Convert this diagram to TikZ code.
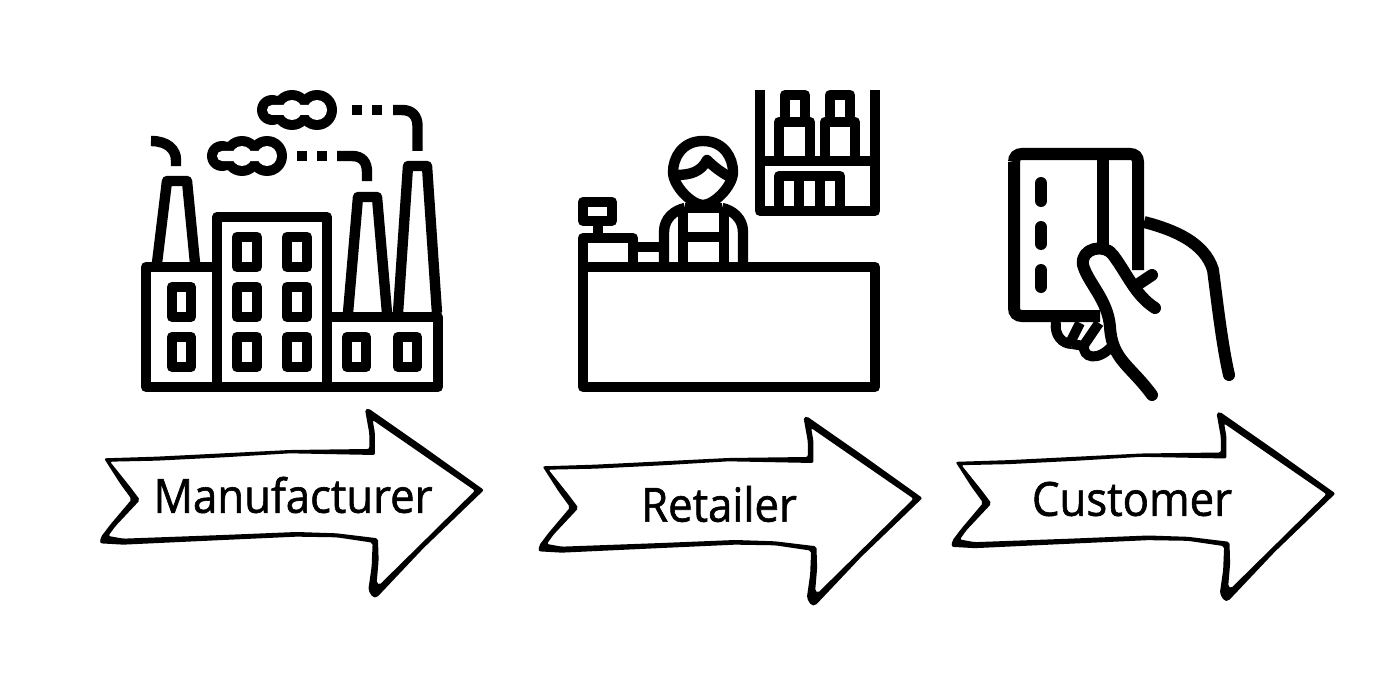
\documentclass[tikz,border=0pt]{standalone}
\usepackage{fontspec}
\newfontfamily\tagfont{Open Sans}[FakeBold=1.3,FakeStretch=0.93]
\usetikzlibrary{positioning}
\tikzset{
  icon/.style={line width=10.4pt, line join=round, line cap=butt},
  soft/.style={line width=10.4pt, line cap=butt},
  roundicon/.style={line width=12pt, line cap=round, line join=round},
  tag/.style={font=\tagfont\fontsize{47}{50}\selectfont, inner sep=0pt}
}
\newcommand{\smokecloud}[2]{%
  \fill (#1-25,#2) circle (15pt) (#1-5,#2) circle (20pt) (#1+20,#2) circle (20pt);
  \fill[white] (#1-25,#2) circle (5pt) (#1-5,#2) circle (10pt) (#1+20,#2) circle (10pt)
    (#1-25,#2-5) rectangle (#1+20,#2+5);
}
\newcommand{\handarrow}[2]{%
  \begin{scope}[shift={(90+#1,400+#2)}, x=0.3333pt, y=-0.3333pt]
  \fill[even odd rule, rounded corners=2pt]
    (42,175) -- (200,170) -- (400,160) -- (600,150) -- (838,147) -- (838,100) -- (825,28)
    -- (835,25) -- (1000,140) -- (1182,270) -- (1000,445) -- (860,593) -- (848,592)
    -- (835,570) -- (845,500) -- (848,428) -- (740,412) -- (620,410) -- (400,420) -- (100,434)
    -- (30,430) -- (32,412) -- (60,375) -- (125,298) -- (90,250) -- cycle
    (60,185) -- (200,182) -- (400,172) -- (600,160) -- (855,165) -- (855,100) -- (848,60)
    -- (1000,165) -- (1155,272) -- (1000,425) -- (868,555) -- (860,550) -- (866,480) -- (864,415)
    -- (740,400) -- (620,396) -- (400,405) -- (100,416) -- (55,408) -- (75,380) -- (150,300)
    -- (120,260) -- cycle;
  \end{scope}
}
\begin{document}
\begin{tikzpicture}[x=1pt, y=-1pt]
\useasboundingbox (0,0) rectangle (1400,682);
% factory
\draw[icon] (146,267) rectangle (217,387);
\draw[icon] (217,217) rectangle (327,387);
\draw[icon] (327,317) -- (438,317) -- (438,387) -- (327,387);
\draw[icon] (157,263) -- (167,181) -- (187,181) -- (195,263);
\draw[icon] (348,313) -- (358,197) -- (377,197) -- (387,313);
\draw[icon] (398,313) -- (408,166) -- (427,166) -- (437,313);
\foreach \wx in {237,287} \foreach \wy in {237,287,337}
  \draw[icon] (\wx,\wy) rectangle ++(20,30);
\foreach \wy in {287,337}
  \draw[icon] (172,\wy) rectangle ++(19,30);
\foreach \wx in {347,398}
  \draw[icon] (\wx,337) rectangle ++(19,30);
% smoke
\smokecloud{297}{110}
\smokecloud{247}{156}
\draw[soft] (151,141) .. controls (168,141) and (176,150) .. (176,160) -- (176,166);
\draw[soft] (297,156) -- (307,156) (317,156) -- (327,156);
\draw[soft] (337,156) -- (352,156) .. controls (362,156) and (367,162) .. (367,172) -- (367,181);
\draw[soft] (352,110) -- (362,110) (372,110) -- (382,110);
\draw[soft] (393,110) -- (402,110) .. controls (412,110) and (417.5,116) .. (417.5,126) -- (417.5,151);
% counter
\draw[icon] (583,267) rectangle (875,387);
\draw[icon] (583,267) -- (583,238) -- (633,238) -- (633,267);
\draw[icon] (583,202) rectangle (612,221);
\draw[icon] (598,221) -- (598,238);
\draw[icon] (633,247) -- (665,247);
% person
\draw[icon] (664,263) -- (664,232) .. controls (664,218) and (675,210) .. (685,208);
\draw[icon] (743,263) -- (743,232) .. controls (743,218) and (732,210) .. (722,208);
\draw[icon] (685,208) -- (722,208);
\draw[icon] (683,208) -- (683,263);
\draw[icon] (724,208) -- (724,263);
\draw[icon] (683,237) -- (724,237);
\draw[soft] (703,141) .. controls (682,141) and (673,158) .. (673,172)
  .. controls (673,186) and (692,205) .. (703,205)
  .. controls (714,205) and (733,186) .. (733,172)
  .. controls (733,158) and (724,141) .. (703,141) -- cycle;
\draw[soft, line join=round] (676,175) .. controls (690,175) and (701,172) .. (707,160)
  .. controls (714,167) and (722,173) .. (730,177);
% shelf
\draw[icon] (760,90) -- (760,211) -- (875,211) -- (875,90);
\draw[icon] (760,161) -- (875,161);
\draw[icon] (779,157) -- (779,122) -- (810,122) -- (810,157);
\draw[icon] (825,157) -- (825,122) -- (855,122) -- (855,157);
\draw[icon] (785,118) -- (785,95) -- (805,95) -- (805,118);
\draw[icon] (830,118) -- (830,95) -- (850,95) -- (850,118);
\draw[icon] (779,207) -- (779,176) -- (840,176) -- (840,207);
\draw[icon] (799,176) -- (799,207);
\draw[icon] (820,176) -- (820,207);
% card
\draw[line width=12pt] (1014,162) .. controls (1014,157) and (1017,154) .. (1022,154)
  -- (1130,154) .. controls (1135,154) and (1138,157) .. (1138,162) -- (1138,270);
\draw[line width=12pt] (1100,316) -- (1022,316) .. controls (1017,316) and (1014,313) .. (1014,308) -- (1014,162);
\draw[line width=12pt] (1103,154) -- (1103,245);
\draw[roundicon] (1041,183) -- (1041,201) (1041,227) -- (1041,244) (1041,270) -- (1041,287);
% hand
\draw[line width=12pt] (1144,222) .. controls (1175,230) and (1205,243) .. (1213,270);
\draw[roundicon] (1213,270) .. controls (1217,300) and (1222,345) .. (1229,375);
\draw[roundicon] (1155,308) .. controls (1135,295) and (1128,275) .. (1113,255)
  .. controls (1105,243) and (1080,248) .. (1083,265)
  .. controls (1088,283) and (1108,300) .. (1110,327)
  .. controls (1112,360) and (1130,365) .. (1152,395);
\draw[roundicon] (1137,285) -- (1152,275);
\draw[line width=10pt] (1056,322) .. controls (1054,335) and (1062,344) .. (1072,344);
\draw[line width=10pt] (1080,323) -- (1070,343);
\draw[line width=10pt] (1099,323) -- (1084,345) .. controls (1082,358) and (1098,362) .. (1112,346);
\draw[line width=10pt] (1072,344) -- (1084,346);
% arrows
\handarrow{0}{0}
\handarrow{438.5}{8}
\handarrow{851.5}{3.5}
\node[tag] (manufacturer) at (293,495) {Manufacturer};
\node[tag] (retailer) at (719,504) {Retailer};
\node[tag] (customer) at (1132,499) {Customer};
\end{tikzpicture}
\end{document}
